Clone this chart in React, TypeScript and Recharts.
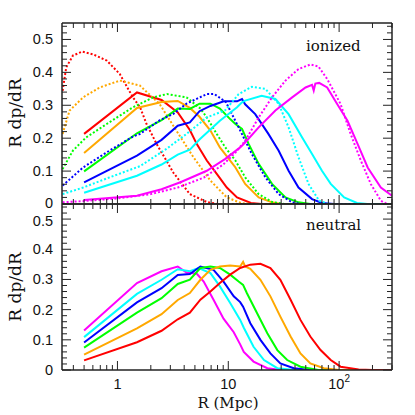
import React from 'react';
import { LineChart, Line, XAxis, YAxis, ReferenceLine } from 'recharts';

type Pt = [number, number];

// radius (Mpc) domain and value range, shared by both panels
const R_MIN = 0.316;
const R_MAX = 300;
const V_MAX = 0.55;

const xTicks = [
  0.4, 0.5, 0.6, 0.7, 0.8, 0.9, 1, 2, 3, 4, 5, 6, 7, 8, 9,
  10, 20, 30, 40, 50, 60, 70, 80, 90, 100, 200, 300,
];
const xMajor = [1, 10, 100];
const yTicks = [
  0, 0.02, 0.04, 0.06, 0.08, 0.1, 0.12, 0.14, 0.16, 0.18, 0.2, 0.22, 0.24, 0.26,
  0.28, 0.3, 0.32, 0.34, 0.36, 0.38, 0.4, 0.42, 0.44, 0.46, 0.48, 0.5, 0.52, 0.54,
];
const yLabels = ['0', '0.1', '0.2', '0.3', '0.4', '0.5'];

const RED = '#ff0000';
const ORANGE = '#ffa800';
const GREEN = '#00ff00';
const BLUE = '#0000ff';
const CYAN = '#00ffff';
const MAGENTA = '#ff00ff';
const AXIS = '#222';

// ---- ionized panel, solid
const ionRed: Pt[] = [
  [0.5, 0.213], [1.5, 0.339], [2.5, 0.316], [3.5, 0.278], [4.5, 0.225], [5.2, 0.182],
  [6.4, 0.132], [7.9, 0.091], [9.7, 0.05], [12, 0.02], [16, 0.003], [20, 0], [300, 0],
];
const ionOrange: Pt[] = [
  [0.5, 0.155], [1.5, 0.292], [2.5, 0.31], [3.5, 0.313], [4.5, 0.292], [5.5, 0.265],
  [6.9, 0.223], [8.4, 0.172], [10.4, 0.132], [11.6, 0.111], [14.2, 0.061], [18.8, 0.02],
  [24.8, 0.005], [30, 0], [300, 0],
];
const ionGreen: Pt[] = [
  [0.5, 0.099], [1.5, 0.215], [2.5, 0.255], [3.5, 0.29], [4.5, 0.289], [5.5, 0.305],
  [6.9, 0.305], [8.4, 0.29], [10.4, 0.258], [11.6, 0.243], [13.3, 0.228], [15.3, 0.182],
  [18.8, 0.122], [24.8, 0.061], [32.8, 0.02], [43, 0.005], [55, 0], [300, 0],
];
const ionBlue: Pt[] = [
  [0.5, 0.066], [1.5, 0.147], [2.5, 0.195], [3.5, 0.238], [4.5, 0.248], [5.5, 0.282],
  [6.9, 0.298], [9.1, 0.312], [12, 0.312], [13.3, 0.319], [14.2, 0.303], [17.5, 0.273],
  [23, 0.213], [28.5, 0.162], [35, 0.101], [43, 0.05], [57, 0.015], [70, 0.003],
  [90, 0], [300, 0],
];
const ionCyan: Pt[] = [
  [0.5, 0.034], [1.5, 0.086], [2.5, 0.12], [3.5, 0.15], [4.5, 0.165], [5.5, 0.196],
  [8.4, 0.253], [12, 0.294], [13.3, 0.309], [14.2, 0.314], [20, 0.329], [26.6, 0.319],
  [35, 0.273], [46.4, 0.202], [57, 0.152], [70, 0.101], [84, 0.061], [111, 0.02],
  [145, 0.003], [180, 0], [300, 0],
];
const ionMagenta: Pt[] = [
  [0.5, 0.012], [1.5, 0.025], [2.5, 0.045], [3.7, 0.066], [6.4, 0.101], [9.4, 0.137],
  [12.8, 0.172], [14.2, 0.187], [18.8, 0.233], [26.6, 0.284], [37.7, 0.324],
  [49.8, 0.354], [57, 0.362], [59, 0.345], [61, 0.366], [66, 0.368], [78, 0.354],
  [96, 0.304], [119, 0.253], [147, 0.182], [181, 0.111], [238, 0.05], [300, 0.025],
];

// ---- ionized panel, dotted
const ionRedDot: Pt[] = [
  [0.32, 0.344], [0.345, 0.415], [0.396, 0.451], [0.48, 0.463], [0.6, 0.455],
  [0.8, 0.436], [1.05, 0.395], [1.38, 0.324], [1.6, 0.294], [1.83, 0.243],
  [2.26, 0.182], [3.2, 0.095], [4.5, 0.03], [6.4, 0.006], [8, 0], [300, 0],
];
const ionOrangeDot: Pt[] = [
  [0.32, 0.213], [0.37, 0.284], [0.49, 0.324], [0.69, 0.354], [1.05, 0.375],
  [1.59, 0.36], [2.4, 0.304], [3.4, 0.223], [4.85, 0.142], [6.9, 0.071],
  [9.7, 0.02], [13, 0.003], [16, 0], [300, 0],
];
const ionGreenDot: Pt[] = [
  [0.32, 0.106], [0.396, 0.162], [0.52, 0.202], [0.8, 0.243], [1.38, 0.294],
  [2.1, 0.324], [2.8, 0.334], [4.2, 0.324], [5.6, 0.29], [6.4, 0.263], [7.9, 0.212],
  [9.4, 0.172], [11.6, 0.132], [14.2, 0.081], [18.8, 0.03], [25, 0.006], [32, 0],
  [300, 0],
];
const ionBlueDot: Pt[] = [
  [0.32, 0.056], [0.49, 0.111], [0.8, 0.157], [1.38, 0.205], [1.6, 0.213],
  [2.42, 0.255], [3.2, 0.274], [4.2, 0.305], [6.4, 0.334], [7.5, 0.334], [9.5, 0.31],
  [12.4, 0.233], [16.3, 0.152], [21.6, 0.081], [28.5, 0.03], [37.7, 0.005], [45, 0],
  [300, 0],
];
const ionCyanDot: Pt[] = [
  [0.32, 0.03], [0.49, 0.05], [0.85, 0.081], [1.6, 0.115], [2.78, 0.168], [4.2, 0.213],
  [6.4, 0.263], [9.4, 0.285], [12.4, 0.334], [16.3, 0.356], [21.6, 0.35], [28.5, 0.304],
  [35, 0.233], [43, 0.142], [53, 0.061], [66, 0.01], [80, 0], [300, 0],
];
const ionMagentaDot: Pt[] = [
  [0.32, 0.005], [0.5, 0.009], [1, 0.017], [2, 0.03], [3.5, 0.05], [6, 0.08], [9, 0.12],
  [11.5, 0.155], [14.2, 0.192], [18.8, 0.263], [24.8, 0.324], [32.8, 0.375],
  [43, 0.41], [55, 0.424], [65, 0.418], [78, 0.38], [103, 0.304], [127, 0.213],
  [157, 0.132], [193, 0.061], [238, 0.01], [270, 0], [300, 0],
];

// ---- neutral panel
const neuRed: Pt[] = [
  [0.5, 0.032], [1.5, 0.092], [2.5, 0.13], [3.5, 0.168], [4.5, 0.19], [5.6, 0.233],
  [6.9, 0.26], [8.4, 0.288], [10.4, 0.316], [12.8, 0.338], [15.8, 0.349], [19.5, 0.352],
  [24, 0.338], [29.5, 0.299], [36.5, 0.233], [44.8, 0.166], [55, 0.111], [68, 0.066],
  [84, 0.033], [103, 0.011], [150, 0.002], [200, 0], [300, 0],
];
const neuOrange: Pt[] = [
  [0.5, 0.051], [1.5, 0.138], [2.5, 0.185], [3.5, 0.232], [4.5, 0.255], [5.6, 0.299],
  [6.9, 0.332], [8.4, 0.343], [10.4, 0.346], [12.8, 0.343], [13.6, 0.358], [14.2, 0.343],
  [15.8, 0.335], [19.5, 0.299], [24, 0.244], [29.5, 0.177], [36.5, 0.111], [44.8, 0.055],
  [55, 0.022], [73, 0.006], [100, 0], [300, 0],
];
const neuGreen: Pt[] = [
  [0.5, 0.074], [1.5, 0.19], [2.5, 0.238], [3.5, 0.285], [4.5, 0.299], [5.6, 0.338],
  [6.9, 0.343], [8.4, 0.338], [10.4, 0.316], [12.4, 0.293], [13.6, 0.282], [14.7, 0.255],
  [18.2, 0.188], [22.5, 0.122], [27.7, 0.066], [34, 0.033], [44.8, 0.011], [65, 0],
  [300, 0],
];
const neuBlue: Pt[] = [
  [0.5, 0.091], [1.5, 0.224], [2.5, 0.271], [3.5, 0.315], [4.5, 0.318], [5.6, 0.343],
  [7.36, 0.332], [9.06, 0.293], [11.2, 0.244], [12.8, 0.225], [13.6, 0.21], [15.8, 0.155],
  [19.5, 0.1], [24, 0.055], [29.5, 0.022], [39, 0.006], [55, 0], [300, 0],
];
const neuCyan: Pt[] = [
  [0.5, 0.109], [1.5, 0.252], [2.5, 0.299], [3.5, 0.334], [4.5, 0.327], [5.4, 0.338],
  [6.9, 0.321], [8.4, 0.277], [10.4, 0.222], [12.8, 0.166], [13.8, 0.14], [16.9, 0.077],
  [21, 0.033], [27.7, 0.006], [40, 0], [300, 0],
];
const neuMagenta: Pt[] = [
  [0.5, 0.131], [1.5, 0.288], [2.5, 0.327], [3.5, 0.343], [4.2, 0.323], [5.2, 0.319],
  [6, 0.293], [7.36, 0.233], [9.06, 0.17], [11.2, 0.125], [12.8, 0.085], [13.8, 0.06],
  [16.9, 0.028], [22.5, 0.006], [30, 0], [300, 0],
];

interface Series {
  id: string;
  pts: Pt[];
  color: string;
  dotted?: boolean;
}

const ionizedSeries: Series[] = [
  { id: 'rd', pts: ionRedDot, color: RED, dotted: true },
  { id: 'r', pts: ionRed, color: RED },
  { id: 'od', pts: ionOrangeDot, color: ORANGE, dotted: true },
  { id: 'o', pts: ionOrange, color: ORANGE },
  { id: 'gd', pts: ionGreenDot, color: GREEN, dotted: true },
  { id: 'g', pts: ionGreen, color: GREEN },
  { id: 'bd', pts: ionBlueDot, color: BLUE, dotted: true },
  { id: 'b', pts: ionBlue, color: BLUE },
  { id: 'cd', pts: ionCyanDot, color: CYAN, dotted: true },
  { id: 'c', pts: ionCyan, color: CYAN },
  { id: 'md', pts: ionMagentaDot, color: MAGENTA, dotted: true },
  { id: 'm', pts: ionMagenta, color: MAGENTA },
];

// drawn magenta first so red ends up on top along the zero line
const neutralSeries: Series[] = [
  { id: 'm', pts: neuMagenta, color: MAGENTA },
  { id: 'c', pts: neuCyan, color: CYAN },
  { id: 'b', pts: neuBlue, color: BLUE },
  { id: 'g', pts: neuGreen, color: GREEN },
  { id: 'o', pts: neuOrange, color: ORANGE },
  { id: 'r', pts: neuRed, color: RED },
];

const PLOT_L = 62;
const PLOT_R = 392;
const W = 415;
const NUM_FONT = '"Liberation Sans", Arial, sans-serif';
const TXT_FONT = '"DejaVu Serif", serif';

interface PanelProps {
  top: number;
  bottom: number;
  svgH: number;
  series: Series[];
  showX: boolean;
}

function Panel({ top, bottom, svgH, series, showX }: PanelProps) {
  const plotH = bottom - top;
  const plotW = PLOT_R - PLOT_L;

  const xTick = (p: any) => {
    const { x, y, payload } = p;
    const v = payload.value as number;
    const major = xMajor.includes(v);
    const len = major ? 9 : 5;
    return (
      <g>
        <line x1={x} x2={x} y1={y} y2={y - len} stroke={AXIS} strokeWidth={1} />
        <line x1={x} x2={x} y1={y - plotH} y2={y - plotH + len} stroke={AXIS} strokeWidth={1} />
        {showX && major && (
          <text
            x={x}
            y={y + 19}
            textAnchor="middle"
            fontSize={14.5}
            fontFamily={NUM_FONT}
            fill="#111"
          >
            {v === 100 ? (
              <>
                10
                <tspan fontSize={10} dy={-7}>2</tspan>
              </>
            ) : (
              String(v)
            )}
          </text>
        )}
      </g>
    );
  };

  const yTick = (p: any) => {
    const { x, y, payload } = p;
    const v = payload.value as number;
    const idx = Math.round(v * 10);
    const major = Math.abs(v * 10 - idx) < 1e-6;
    const len = major ? 9 : 5;
    // the shared 0 / 0.5 labels sit close together, nudge them apart a little
    const dy = idx === 0 && showX === false ? 4 : idx === 5 && showX ? 6.5 : 5;
    return (
      <g>
        <line x1={x} x2={x + len} y1={y} y2={y} stroke={AXIS} strokeWidth={1} />
        <line x1={x + plotW} x2={x + plotW - len} y1={y} y2={y} stroke={AXIS} strokeWidth={1} />
        {major && (
          <text
            x={x - 9}
            y={y + dy}
            textAnchor="end"
            fontSize={14.5}
            fontFamily={NUM_FONT}
            fill="#111"
          >
            {yLabels[idx]}
          </text>
        )}
      </g>
    );
  };

  // axes are 1px thick boxes (a zero-size axis is not drawn at all)
  return (
    <LineChart
      width={W}
      height={svgH}
      margin={{ top, right: W - PLOT_R, bottom: svgH - bottom - 1, left: PLOT_L - 1 }}
    >
      <XAxis
        dataKey="r"
        type="number"
        scale="log"
        domain={[R_MIN, R_MAX]}
        allowDataOverflow
        ticks={xTicks}
        interval={0}
        height={1}
        tickSize={0}
        tickMargin={0}
        tick={xTick}
        axisLine={{ stroke: AXIS, strokeWidth: 1.5 }}
        tickLine={false}
      />
      <YAxis
        type="number"
        domain={[0, V_MAX]}
        allowDataOverflow
        ticks={yTicks}
        interval={0}
        width={1}
        tickSize={0}
        tickMargin={0}
        tick={yTick}
        axisLine={{ stroke: AXIS, strokeWidth: 1.5 }}
        tickLine={false}
      />
      {series.map((s) => (
        <Line
          key={s.id}
          data={s.pts.map(([r, v]) => ({ r, v }))}
          dataKey="v"
          type="linear"
          stroke={s.color}
          strokeWidth={2}
          strokeDasharray={s.dotted ? '2 2' : undefined}
          dot={false}
          activeDot={false}
          isAnimationActive={false}
        />
      ))}
      <ReferenceLine y={V_MAX} stroke={AXIS} strokeWidth={1.5} />
      <ReferenceLine x={R_MAX} stroke={AXIS} strokeWidth={1.5} />
    </LineChart>
  );
}

export default function App() {
  return (
    <div
      style={{ position: 'absolute', left: 0, top: 0, width: W, height: W, background: '#fff' }}
    >
      <div style={{ position: 'absolute', left: 0, top: 0 }}>
        <Panel top={23} bottom={204} svgH={212} series={ionizedSeries} showX={false} />
      </div>
      <div style={{ position: 'absolute', left: 0, top: 0 }}>
        <Panel top={204} bottom={370} svgH={W} series={neutralSeries} showX />
      </div>
      <svg
        width={W}
        height={W}
        style={{ position: 'absolute', left: 0, top: 0, pointerEvents: 'none' }}
      >
        <g fontFamily={TXT_FONT} fill="#111">
          <text x={306} y={51} fontSize={15}>ionized</text>
          <text x={306} y={230} fontSize={15}>neutral</text>
          <text x={228} y={408} fontSize={15} textAnchor="middle">R (Mpc)</text>
          <text x={21} y={113} fontSize={17} textAnchor="middle" transform="rotate(-90 21 113)">
            R dp/dR
          </text>
          <text x={21} y={287} fontSize={17} textAnchor="middle" transform="rotate(-90 21 287)">
            R dp/dR
          </text>
        </g>
      </svg>
    </div>
  );
}
